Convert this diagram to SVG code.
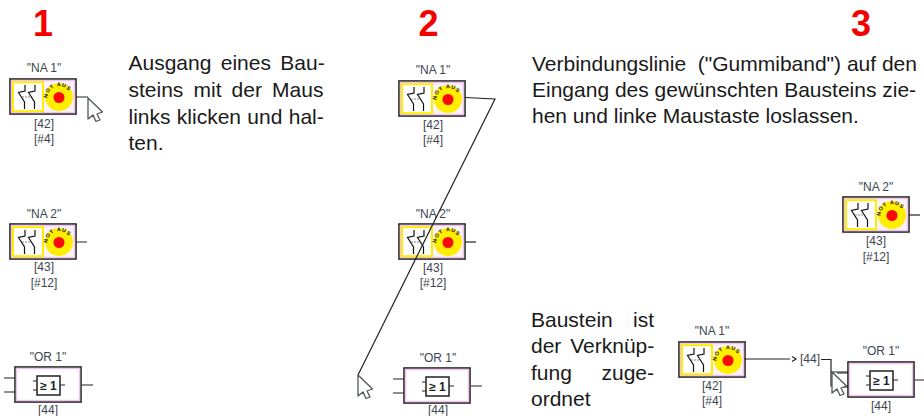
<svg xmlns="http://www.w3.org/2000/svg" width="924" height="416" viewBox="0 0 924 416">
<style>
text{font-family:"Liberation Sans",Arial,sans-serif}
.num{font-size:36px;font-weight:bold;fill:#f40000;text-anchor:middle}
.body{font-size:21px;fill:#1a1a1a}
.end{text-anchor:end}
.lbl{font-size:12px;fill:#3c4650;text-anchor:middle}
.ln{fill:none;stroke:#222;stroke-width:1.2}
.box{fill:#fff;stroke:#222;stroke-width:1.6}
.nab{fill:#fdf2fc;stroke:#222;stroke-width:1.6}
.inner{fill:none;stroke:#eec4ec;stroke-width:1.4}
.sw{fill:none;stroke:#111;stroke-width:1.2}
.cur{fill:#fff;stroke:#50565e;stroke-width:1.3;stroke-linejoin:round}
.stamp{font-size:5.4px;font-weight:bold;fill:#111}
.ge{font-size:12px;font-weight:bold;fill:#222;text-anchor:middle}
</style>
<defs>
<path id="arc" d="M3.500 11A11.500 11.500 0 0 1 27 11"/>
<g id="na">
<rect class="nab" width="66" height="35"/>
<rect class="inner" x="1.500" y="1.500" width="63" height="32"/>
<rect x="3" y="3.200" width="30" height="29" fill="#fff" stroke="#ffee00" stroke-width="2"/>
<path class="sw" d="M15 6V12L8.500 13.500L14.500 23V30M25 6V12L18.500 13.500L24.500 23V30"/>
<path d="M12 18H21" fill="none" stroke="#888" stroke-width="1" stroke-dasharray="2 1"/>
<circle cx="49" cy="18" r="14" fill="#ffee00"/>
<circle cx="49" cy="18.500" r="5.500" fill="#fa0a0a"/>
<g transform="translate(34 8)"><text class="stamp" textLength="29" lengthAdjust="spacing"><textPath href="#arc">NOT AUS</textPath></text></g>
</g>
<g id="or">
<path class="ln" d="M-11 11H0M-11 25H0M67 18H78"/>
<rect class="box" width="66" height="35"/>
<rect class="inner" x="1.500" y="1.500" width="63" height="32"/>
<path class="ln" d="M18 14H22M18 23H22M45 18H50"/>
<rect x="22" y="9" width="23" height="19" fill="#fff" stroke="#222" stroke-width="1.500"/>
<text class="ge" x="33.500" y="23">≥ 1</text>
</g>
<path id="cursor" class="cur" d="M0 0V21L5 17L8 23.500L12 22L9 16L14.500 14Z"/>
</defs>
<g id="step-numbers">
<text class="num" x="43" y="36">1</text>
<text class="num" x="428.500" y="36">2</text>
<text class="num" x="861" y="36">3</text>
</g>
<g id="text-1">
<text class="body" x="128.500" y="70" word-spacing="3.500">Ausgang eines Bau-</text>
<text class="body" x="128.500" y="97" word-spacing="4.300">steins mit der Maus</text>
<text class="body" x="128.500" y="124" word-spacing="0.500">links klicken und hal-</text>
<text class="body" x="128.500" y="150">ten.</text>
</g>
<g id="text-2">
<text class="body" x="532" y="71" xml:space="preserve">Verbindungslinie  ("Gummiband") auf den</text>
<text class="body" x="532" y="97">Eingang des gewünschten Bausteins zie-</text>
<text class="body" x="532" y="123">hen und linke Maustaste loslassen.</text>
</g>
<g id="text-3">
<text class="body" x="531" y="327">Baustein</text><text class="body end" x="654" y="327">ist</text>
<text class="body" x="531" y="353" word-spacing="3">der Verknüp-</text>
<text class="body" x="531" y="380">fung</text><text class="body end" x="654" y="380">zuge-</text>
<text class="body" x="531" y="406">ordnet</text>
</g>
<g id="c1-na1"><use href="#na" x="10" y="79"/><text class="lbl" x="44" y="72">"NA 1"</text><text class="lbl" x="44" y="128">[42]</text><text class="lbl" x="44" y="143">[#4]</text></g>
<g id="c1-na2"><use href="#na" x="10" y="224"/><text class="lbl" x="44" y="218">"NA 2"</text><text class="lbl" x="44" y="271">[43]</text><text class="lbl" x="44" y="287">[#12]</text></g>
<g id="c1-or1"><use href="#or" x="15" y="367"/><text class="lbl" x="48" y="361">"OR 1"</text><text class="lbl" x="48" y="414">[44]</text></g>
<g id="c2-na1"><use href="#na" x="399" y="81"/><text class="lbl" x="433" y="74">"NA 1"</text><text class="lbl" x="433" y="129">[42]</text><text class="lbl" x="433" y="144">[#4]</text></g>
<g id="c2-na2"><use href="#na" x="399" y="224"/><text class="lbl" x="433" y="218">"NA 2"</text><text class="lbl" x="433" y="272">[43]</text><text class="lbl" x="433" y="287">[#12]</text></g>
<g id="c2-or1"><use href="#or" x="404" y="368"/><text class="lbl" x="438" y="362">"OR 1"</text><text class="lbl" x="438" y="414">[44]</text></g>
<g id="c3-na2"><use href="#na" x="843" y="197"/><text class="lbl" x="876" y="191">"NA 2"</text><text class="lbl" x="876" y="245">[43]</text><text class="lbl" x="876" y="261">[#12]</text></g>
<g id="c3-na1"><use href="#na" x="679" y="342"/><text class="lbl" x="712" y="335">"NA 1"</text><text class="lbl" x="712" y="390">[42]</text><text class="lbl" x="712" y="405">[#4]</text></g>
<g id="c3-or1"><use href="#or" x="848" y="362"/><text class="lbl" x="881" y="355">"OR 1"</text><text class="lbl" x="881" y="410">[44]</text></g>
<g id="connectors">
<path class="ln" d="M76 97H88M76 242H87"/>
<path class="ln" d="M465 97.500L495 99L358 375"/>
<path class="ln" d="M465 242H476"/>
<path class="ln" d="M909 215H920"/>
<path class="ln" d="M744 359H790M792 356.500L796 359L792 361.500"/>
<text class="lbl" x="810" y="363">[44]</text>
<path class="ln" d="M821 359.500H831V372H848M831 372V386H848"/>
</g>
<g id="cursors">
<use href="#cursor" x="88" y="98"/>
<use href="#cursor" x="358" y="375"/>
<use href="#cursor" x="832" y="372"/>
</g>
</svg>
